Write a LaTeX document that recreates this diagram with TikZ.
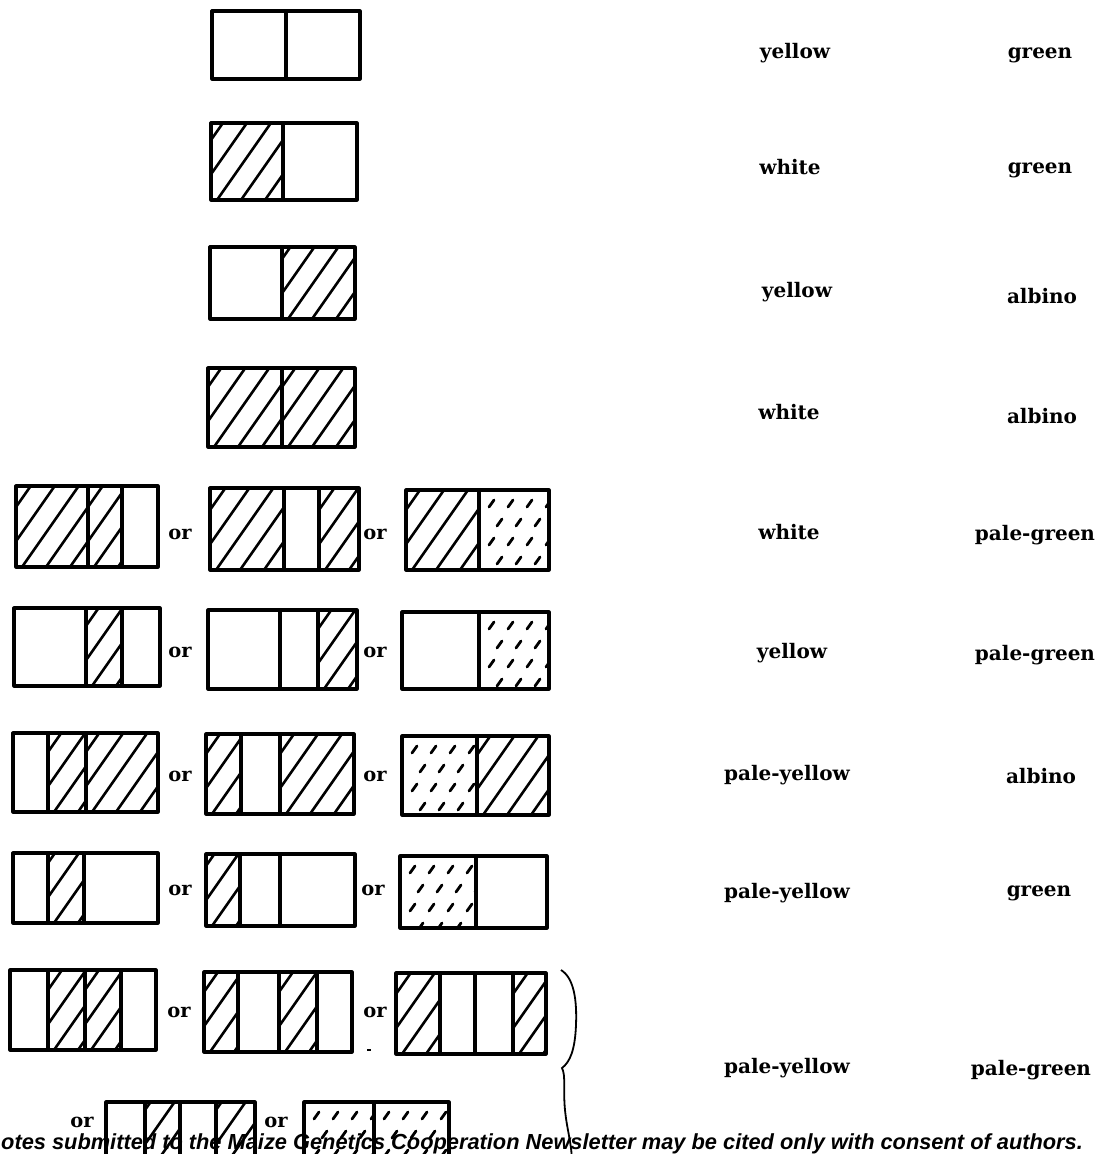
\documentclass[tikz,border=0pt]{standalone}
\usepackage{fontspec}
\setmainfont{DejaVu Serif}
\newfontfamily\footfont{Liberation Sans}
\tikzset{
  boxline/.style={line width=3.2pt, line join=round},
  hatchline/.style={line width=2.6pt},
  stip/.style={line width=2.8pt, line cap=round},
  bracel/.style={line width=1.8pt},
  lab/.style={font=\bfseries\fontsize{20}{22}\selectfont, inner sep=0pt},
  orlab/.style={font=\bfseries\fontsize{19.5}{21}\selectfont, inner sep=0pt},
}
\newcommand\hatchseg[4]{%
  \begin{scope}
    \clip (#1,#2) rectangle (#3,#4);
    \foreach \k in {-5,...,6} \draw[hatchline] ({#1+\k*24+6},#4) -- ++(70,-100);
  \end{scope}}
\newcommand\stipseg[4]{%
  \begin{scope}
    \clip (#1,#2) rectangle (#3,#4);
    \foreach \i in {0,...,3} \foreach \j in {0,...,3} {
      \draw[stip] ({#1+10+\i*19+mod(\j,2)*8},{#2+17+\j*19}) -- ++(5,-7);
    }
  \end{scope}}
\newcommand\segbox[5]{%
  \draw[boxline] (#1,#2) rectangle (#3,#4);
  \foreach \d in {#5} \draw[boxline] (\d,#2) -- (\d,#4);}
\begin{document}
\begin{tikzpicture}[x=1pt,y=-1pt]
\clip (0,0) rectangle (1108,1154);
\fill[white] (0,0) rectangle (1108,1154);
% ---- rows 1-4 ----
\segbox{212}{11}{360}{79}{286}
\hatchseg{211}{123}{283}{200}
\segbox{211}{123}{357}{200}{283}
\hatchseg{282}{247}{355}{319}
\segbox{210}{247}{355}{319}{282}
\hatchseg{208}{368}{282}{447}
\hatchseg{282}{368}{355}{447}
\segbox{208}{368}{355}{447}{282}
% ---- row 5 ----
\hatchseg{16}{486}{88}{567}
\hatchseg{88}{486}{122}{567}
\segbox{16}{486}{158}{567}{88,122}
\node[orlab] (or5a) at (180,534) {or};
\hatchseg{210}{488}{284}{570}
\hatchseg{319}{488}{359}{570}
\segbox{210}{488}{359}{570}{284,319}
\node[orlab] (or5b) at (375,534) {or};
\hatchseg{406}{490}{479}{570}
\stipseg{479}{490}{549}{570}
\segbox{406}{490}{549}{570}{479}
% ---- row 6 ----
\hatchseg{86}{608}{122}{686}
\segbox{14}{608}{160}{686}{86,122}
\node[orlab] (or6a) at (180,652) {or};
\hatchseg{318}{610}{357}{689}
\segbox{208}{610}{357}{689}{280,318}
\node[orlab] (or6b) at (375,652) {or};
\stipseg{479}{612}{549}{689}
\segbox{402}{612}{549}{689}{479}
% ---- row 7 ----
\hatchseg{48}{733}{86}{812}
\hatchseg{86}{733}{158}{812}
\segbox{13}{733}{158}{812}{48,86}
\node[orlab] (or7a) at (180,776) {or};
\hatchseg{206}{734}{241}{814}
\hatchseg{280}{734}{354}{814}
\segbox{206}{734}{354}{814}{241,280}
\node[orlab] (or7b) at (375,776) {or};
\stipseg{402}{736}{477}{815}
\hatchseg{477}{736}{549}{815}
\segbox{402}{736}{549}{815}{477}
% ---- row 8 ----
\hatchseg{48}{853}{84}{923}
\segbox{13}{853}{158}{923}{48,84}
\node[orlab] (or8a) at (180,890) {or};
\hatchseg{206}{854}{240}{926}
\segbox{206}{854}{355}{926}{240,280}
\node[orlab] (or8b) at (373,890) {or};
\stipseg{400}{856}{476}{928}
\segbox{400}{856}{547}{928}{476}
% ---- row 9 ----
\hatchseg{48}{970}{85}{1050}
\hatchseg{85}{970}{121}{1050}
\segbox{10}{970}{156}{1050}{48,85,121}
\node[orlab] (or9a) at (179,1012) {or};
\hatchseg{204}{972}{238}{1052}
\hatchseg{279}{972}{317}{1052}
\segbox{204}{972}{352}{1052}{238,279,317}
\draw[line width=1.5pt] (367,1050) -- (371,1050);
\node[orlab] (or9b) at (375,1012) {or};
\hatchseg{396}{973}{440}{1054}
\hatchseg{513}{973}{546}{1054}
\segbox{396}{973}{546}{1054}{440,475,513}
% ---- row 10 ----
\node[orlab] (or10a) at (82,1122) {or};
\hatchseg{145}{1102}{180}{1170}
\hatchseg{216}{1102}{255}{1170}
\segbox{106}{1102}{255}{1170}{145,180,216}
\node[orlab] (or10b) at (276,1122) {or};
\stipseg{304}{1102}{374}{1170}
\stipseg{374}{1102}{449}{1170}
\segbox{304}{1102}{449}{1170}{374}
% ---- brace ----
\draw[bracel] (561,970) .. controls (574,978) and (577,1000) .. (576,1025)
  .. controls (575,1050) and (570,1062) .. (562,1068)
  .. controls (566,1076) and (563,1090) .. (565,1110)
  .. controls (567,1130) and (571,1140) .. (572,1160);
% ---- labels ----
\node[lab] (l1a) at (795,53) {yellow};
\node[lab] (l1b) at (1040,55) {green};
\node[lab] (l2a) at (790,167) {white};
\node[lab] (l2b) at (1040,170) {green};
\node[lab] (l3a) at (797,292) {yellow};
\node[lab] (l3b) at (1042,296) {albino};
\node[lab] (l4a) at (789,412) {white};
\node[lab] (l4b) at (1042,416) {albino};
\node[lab] (l5a) at (789,532) {white};
\node[lab] (l5b) at (1035,535) {pale-green};
\node[lab] (l6a) at (792,653) {yellow};
\node[lab] (l6b) at (1035,655) {pale-green};
\node[lab] (l7a) at (787,775) {pale-yellow};
\node[lab] (l7b) at (1041,776) {albino};
\node[lab] (l8a) at (787,893) {pale-yellow};
\node[lab] (l8b) at (1039,893) {green};
\node[lab] (l9a) at (787,1068) {pale-yellow};
\node[lab] (l9b) at (1031,1070) {pale-green};
% ---- footer ----
\node[anchor=base west, inner sep=0pt, font=\footfont\bfseries\itshape\fontsize{21.8}{23}\selectfont] (foot) at (1,1149) {otes submitted to the Maize Genetics Cooperation Newsletter may be cited only with consent of authors.};
\end{tikzpicture}
\end{document}
